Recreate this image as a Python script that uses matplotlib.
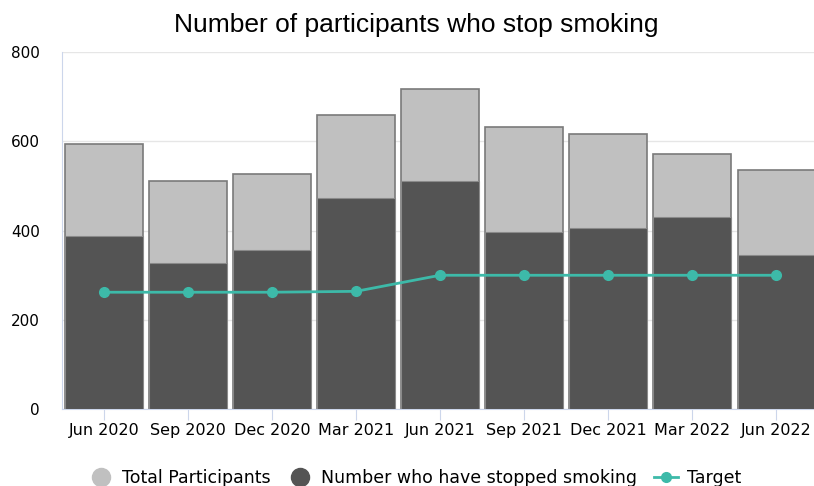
import matplotlib.pyplot as plt
import matplotlib.lines as mlines
import numpy as np

quarters = ["Jun 2020", "Sep 2020", "Dec 2020", "Mar 2021", "Jun 2021",
            "Sep 2021", "Dec 2021", "Mar 2022", "Jun 2022"]
total_participants = [594, 511, 527, 659, 717, 632, 616, 571, 536]
stopped_smoking = [388, 327, 356, 473, 511, 397, 406, 430, 345]
target = [262, 262, 262, 264, 300, 300, 300, 300, 300]

light = "#c0c0c0"
dark = "#545454"
teal = "#3dbaa9"
axis_col = "#ccd6eb"

fig = plt.figure(figsize=(8.14, 4.86), dpi=100)
ax = fig.add_axes([0.076, 0.158, 0.924, 0.735])

x = np.arange(len(quarters))
ax.bar(x, total_participants, width=0.92, color=light, edgecolor="#7a7a7a", linewidth=1.2, zorder=2)
ax.bar(x, stopped_smoking, width=0.92, color=dark, edgecolor="#8a8a8a", linewidth=0.8, zorder=3)
ax.plot(x, target, color=teal, linewidth=2, marker="o", markersize=7, zorder=4)

ax.set_xlim(-0.5, 8.45)
ax.set_ylim(0, 800)
ax.set_yticks([0, 200, 400, 600, 800])
ax.set_xticks(x)
ax.set_xticklabels(quarters)
ax.tick_params(axis="y", length=0, labelsize=11, pad=16)
ax.tick_params(axis="x", length=8, color=axis_col, labelsize=11.5, pad=2)
ax.grid(axis="y", color="#e6e6e6", linewidth=1, zorder=0)
ax.set_axisbelow(True)
for side in ["top", "right"]:
    ax.spines[side].set_visible(False)
ax.spines["left"].set_color(axis_col)
ax.spines["bottom"].set_color(axis_col)

fig.text(0.511, 0.948, "Number of participants who stop smoking", ha="center", va="center",
         fontsize=19, family="Liberation Sans")

h1 = mlines.Line2D([], [], color=light, marker="o", linestyle="None", markersize=13, label="Total Participants")
h2 = mlines.Line2D([], [], color=dark, marker="o", linestyle="None", markersize=13, label="Number who have stopped smoking")
h3 = mlines.Line2D([], [], color=teal, marker="o", linewidth=2, markersize=7, label="Target")
fig.legend(handles=[h1, h2, h3], loc="center", bbox_to_anchor=(0.510, 0.017), ncol=3, frameon=False,
           fontsize=12.5, handlelength=1.4, handletextpad=0.5, columnspacing=1.0)

plt.savefig("out.png", dpi=100)
